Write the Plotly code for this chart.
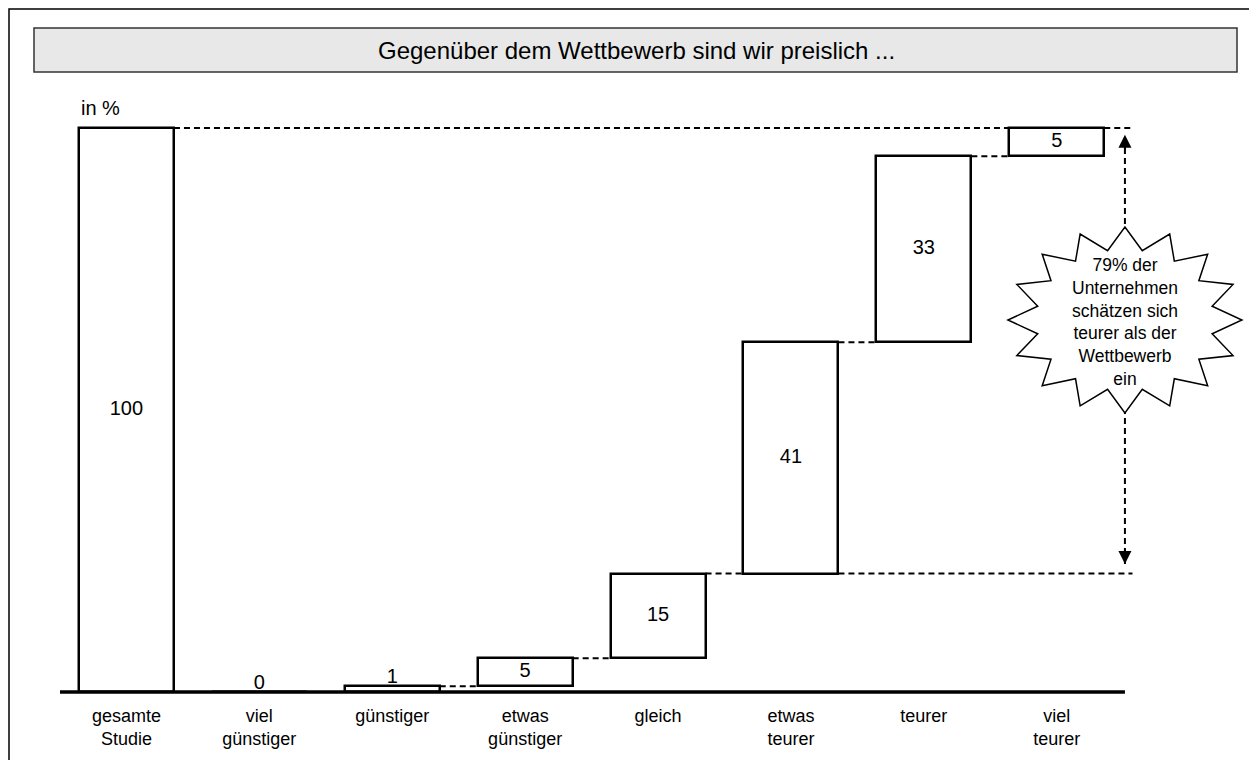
import math
import plotly.graph_objects as go

# ---------------- data ----------------
categories = ["gesamte<br>Studie", "viel<br>günstiger", "günstiger", "etwas<br>günstiger",
              "gleich", "etwas<br>teurer", "teurer", "viel<br>teurer"]
values = [100, 0, 1, 5, 15, 41, 33, 5]
title_text = "Gegenüber dem Wettbewerb sind wir preislich ..."
unit_label = "in %"
teurer_start = 5  # index of first "teurer" category

# ---------------- derived waterfall geometry ----------------
n = len(values)
xs = list(range(n))
bases = [0]
cum = 0
for v in values[1:]:
    bases.append(cum)
    cum += v
tops = [b + v for b, v in zip(bases, values)]
bar_w = 0.715
hw = bar_w / 2

FONT = "Liberation Sans, Arial, sans-serif"
OFF = 8  # page body margin offset
W_FIG, H_FIG = 1257, 760
PW, PH = 1189, 600
L, T = 60 - OFF, 100 - OFF
R = W_FIG - L - PW
B = H_FIG - T - PH
px_per_cat = 132.9
px_per_unit = 5.64
x_range = [-0.5, -0.5 + PW / px_per_cat]
y_min = -(8 / px_per_unit)
y_range = [y_min, y_min + PH / px_per_unit]


def xp(px):  # screen px -> paper
    return (px - OFF - L) / PW


def yp(py):
    return (T + PH - (py - OFF)) / PH


fig = go.Figure()

# bars
fig.add_trace(go.Bar(
    x=xs, y=values, base=bases, width=bar_w,
    marker=dict(color="white", line=dict(color="black", width=2.5)),
    hoverinfo="skip", showlegend=False,
))

# connectors (dashed)
dash = "6px,4px"
conn_x, conn_y = [], []
for i in range(1, n - 1):
    lvl = tops[i]
    if lvl <= 0:
        continue
    conn_x += [i + hw, i + 1 - hw, None]
    conn_y += [lvl, lvl, None]
conn_x += [0 + hw, (n - 1) - hw, None]
conn_y += [tops[0], tops[0], None]
x_br = (n - 1) + 0.57
arrow_x = (n - 1) + 0.513
lo = bases[teurer_start]
hi = tops[-1]
conn_x += [(n - 1) + hw, x_br, None, teurer_start + hw, x_br, None]
conn_y += [hi, hi, None, lo, lo, None]
fig.add_trace(go.Scatter(x=conn_x, y=conn_y, mode="lines",
                         line=dict(color="black", width=2, dash=dash),
                         hoverinfo="skip", showlegend=False))

# vertical dashed arrow shaft
fig.add_trace(go.Scatter(x=[arrow_x, arrow_x], y=[lo + 1.7, hi - 1.2], mode="lines",
                         line=dict(color="black", width=2, dash=dash),
                         hoverinfo="skip", showlegend=False))

# baseline
fig.add_trace(go.Scatter(x=[-0.5, arrow_x], y=[0, 0], mode="lines",
                         line=dict(color="black", width=3.5),
                         hoverinfo="skip", showlegend=False))

# value labels
lab_y = [(t + 1.4) if v < 3 else (b + v / 2) for b, v, t in zip(bases, values, tops)]
fig.add_trace(go.Scatter(x=xs, y=lab_y, mode="text", text=[str(v) for v in values],
                         textfont=dict(family=FONT, size=20, color="black"),
                         hoverinfo="skip", showlegend=False))

shapes = []
shapes.append(dict(type="rect", xref="paper", yref="paper",
                   x0=xp(9), x1=xp(1290), y0=yp(790), y1=yp(9),
                   line=dict(color="black", width=1.5), fillcolor="rgba(0,0,0,0)", layer="below"))
shapes.append(dict(type="rect", xref="paper", yref="paper",
                   x0=xp(34), x1=xp(1237), y0=yp(72), y1=yp(28),
                   line=dict(color="#333333", width=1.5), fillcolor="#e8e8e8", layer="below"))

# starburst around arrow
cy = 65.96
rx, ry = 117 / px_per_cat, 93 / px_per_unit
pts = []
npts = 16
for k in range(2 * npts):
    ang = math.pi / 2 - k * math.pi / npts
    r = 1.0 if k % 2 == 0 else 0.76
    pts.append((arrow_x + r * rx * math.cos(ang), cy + r * ry * math.sin(ang)))
path = "M " + " L ".join(f"{x:.4f},{y:.4f}" for x, y in pts) + " Z"
shapes.append(dict(type="path", xref="x", yref="y", path=path,
                   line=dict(color="black", width=1.5), fillcolor="white", layer="above"))

pct = sum(values[teurer_start:])
annotations = [
    dict(text=title_text, xref="paper", yref="paper", x=xp(636), y=yp(50),
         showarrow=False, font=dict(family=FONT, size=24, color="black"),
         xanchor="center", yanchor="middle"),
    dict(text=unit_label, xref="paper", yref="paper", x=xp(79), y=yp(108),
         showarrow=False, font=dict(family=FONT, size=20, color="black"),
         xanchor="left", yanchor="middle"),
    dict(text=f"{pct}% der<br>Unternehmen<br>schätzen sich<br>teurer als der<br>Wettbewerb<br>ein",
         xref="x", yref="y", x=arrow_x, y=cy - 0.3, showarrow=False,
         font=dict(family=FONT, size=17.5, color="black"), align="center",
         xanchor="center", yanchor="middle"),
    dict(text="", xref="x", yref="y", x=arrow_x, y=hi - 1.2, ax=arrow_x, ay=hi - 4,
         axref="x", ayref="y", showarrow=True, arrowhead=2, arrowsize=1.3,
         arrowwidth=2, arrowcolor="black", standoff=0),
    dict(text="", xref="x", yref="y", x=arrow_x, y=lo + 1.7, ax=arrow_x, ay=lo + 4.5,
         axref="x", ayref="y", showarrow=True, arrowhead=2, arrowsize=1.3,
         arrowwidth=2, arrowcolor="black", standoff=0),
]

fig.update_layout(
    width=W_FIG, height=H_FIG,
    margin=dict(l=L, r=R, t=T, b=B, pad=0),
    paper_bgcolor="white", plot_bgcolor="white",
    shapes=shapes, annotations=annotations,
    showlegend=False, bargap=0,
    font=dict(family=FONT, size=18, color="black"),
    xaxis=dict(range=x_range, tickmode="array", tickvals=xs, ticktext=categories,
               showgrid=False, zeroline=False, showline=False, ticks="",
               ticklabelstandoff=3,
               tickfont=dict(family=FONT, size=18, color="black"), fixedrange=True),
    yaxis=dict(range=y_range, showgrid=False, zeroline=False, showline=False,
               showticklabels=False, ticks="", fixedrange=True),
)

fig.write_html("out.html")
